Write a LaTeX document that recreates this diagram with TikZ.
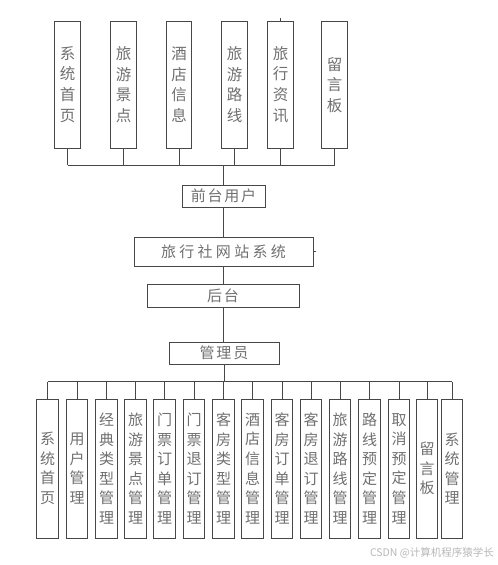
\documentclass[tikz,border=0pt]{standalone}
\usepackage{fontspec}
\newfontfamily\cjk{Noto Sans CJK SC}
\newfontfamily\cjkwide[LetterSpace=22]{Noto Sans CJK SC}
\newfontfamily\cjkmid[LetterSpace=12]{Noto Sans CJK SC}
\begin{document}
\begin{tikzpicture}[x=1pt,y=-1pt,
  box/.style={draw=black!72, line width=0.9pt, inner sep=0pt, text=black!56, align=center},
  topbox/.style={box, minimum width=25.5pt, minimum height=127pt, font=\cjk\fontsize{15.5}{20.7}\selectfont},
  botbox/.style={box, minimum width=21.5pt, minimum height=139pt, font=\cjk\fontsize{15}{19.6}\selectfont},
  hbox/.style={box, font=\cjkmid\fontsize{15}{18}\selectfont},
  link/.style={draw=black!72, line width=0.9pt}]
\useasboundingbox (0,0) rectangle (498,565);
\fill[white] (0,0) rectangle (498,565);

% top level boxes
\node[topbox] (t1) at (67.5,84.5) {系\\统\\首\\页};
\node[topbox] (t2) at (123.5,84.5) {旅\\游\\景\\点};
\node[topbox] (t3) at (179,84.5) {酒\\店\\信\\息};
\node[topbox] (t4) at (234.5,84.5) {旅\\游\\路\\线};
\node[topbox] (t5) at (280.5,84.5) {旅\\行\\资\\讯};
\node[topbox] (t6) at (334.5,85) {留\\言\\板};

\coordinate (tbus) at (223.5,165);
\coordinate (t5tick) at (280.5,18);
\draw[link] (t5.north) -- (t5tick);
\foreach \i in {1,...,6} \draw[link] (t\i.south) -- (t\i.south |- tbus);
\draw[link] (t1.south |- tbus) -- (t6.south |- tbus);

% middle chain
\node[hbox, minimum width=83pt, minimum height=22pt] (front) at (223.5,196) {前台用户};
\node[hbox, font=\cjkwide\fontsize{15}{18}\selectfont, minimum width=179pt, minimum height=29pt] (sys) at (223.5,251.5) {旅行社网站系统};
\node[hbox, minimum width=152pt, minimum height=23pt] (back) at (223,295.5) {后台};
\node[hbox, minimum width=110pt, minimum height=22pt] (admin) at (224,353) {管理员};
\coordinate (systick) at (316,251.5);

\draw[link] (tbus) -- (tbus |- front.north);
\draw[link] (front.south) -- (front.south |- sys.north);
\draw[link] (sys.east) -- (systick);
\draw[link] (sys.south) -- (sys.south |- back.north);
\draw[link] (back.south) -- (back.south |- admin.north);

% bottom level boxes
\node[botbox] (b1) at (47.5,468.5) {系\\统\\首\\页};
\node[botbox] (b2) at (77,468.5) {用\\户\\管\\理};
\node[botbox] (b3) at (106.5,468.5) {经\\典\\类\\型\\管\\理};
\node[botbox] (b4) at (135.5,468.5) {旅\\游\\景\\点\\管\\理};
\node[botbox] (b5) at (164.5,468.5) {门\\票\\订\\单\\管\\理};
\node[botbox] (b6) at (194,468.5) {门\\票\\退\\订\\管\\理};
\node[botbox] (b7) at (223.5,468.5) {客\\房\\类\\型\\管\\理};
\node[botbox] (b8) at (252.5,468.5) {酒\\店\\信\\息\\管\\理};
\node[botbox] (b9) at (282,468.5) {客\\房\\订\\单\\管\\理};
\node[botbox] (b10) at (311,468.5) {客\\房\\退\\订\\管\\理};
\node[botbox] (b11) at (340,468.5) {旅\\游\\路\\线\\管\\理};
\node[botbox] (b12) at (369.5,468.5) {路\\线\\预\\定\\管\\理};
\node[botbox] (b13) at (399,468.5) {取\\消\\预\\定\\管\\理};
\node[botbox] (b14) at (427,468.5) {留\\言\\板};
\node[botbox] (b15) at (452,468.5) {系\\统\\管\\理};

\coordinate (bbus) at (224,381.5);
\draw[link] (admin.south) -- (bbus);
\foreach \i in {1,...,15} \draw[link] (b\i.north) -- (b\i.north |- bbus);
\draw[link] (b1.north |- bbus) -- (b15.north |- bbus);

% watermark
\node[anchor=east, inner sep=0pt, text=black!28, font=\cjk\fontsize{10.5}{12}\selectfont] (wm) at (494,553) {CSDN @计算机程序猿学长};
\end{tikzpicture}
\end{document}
